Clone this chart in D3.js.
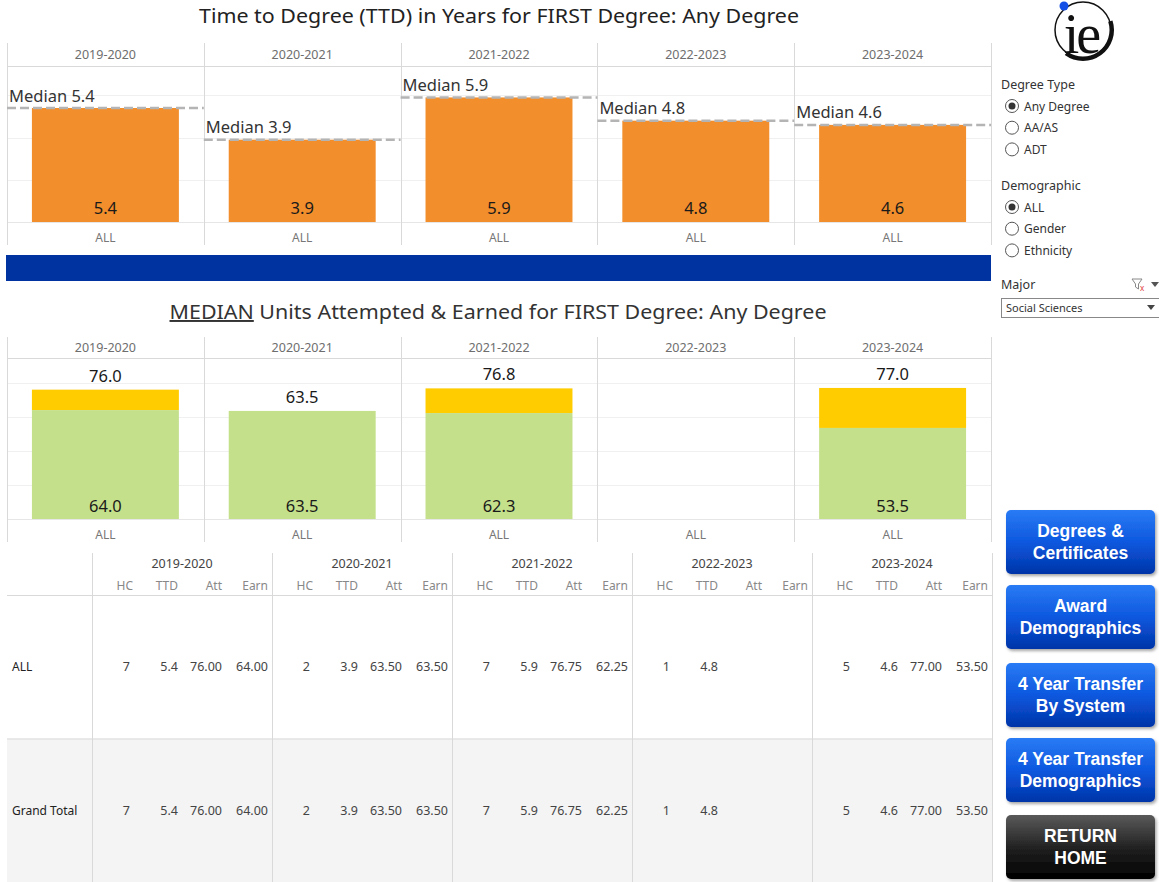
<!DOCTYPE html>
<html>
<head>
<meta charset="utf-8">
<script src="https://cdn.jsdelivr.net/npm/d3@7"></script>
<style>
  html, body { margin: 0; padding: 0; background: #fff; }
  svg { display: block; font-family: "Noto Sans", "Open Sans", sans-serif; }
</style>
</head>
<body>
<svg id="chart" width="1159" height="882"></svg>
<script>
// ---------------- DATA ----------------
const years = ["2019-2020", "2020-2021", "2021-2022", "2022-2023", "2023-2024"];
const demographicRows = ["ALL"];
const ttdValues = [5.4, 3.9, 5.9, 4.8, 4.6];
const ttdMedians = [5.4, 3.9, 5.9, 4.8, 4.6];
const unitsAttempted = [76.0, 63.5, 76.75, null, 77.0];
const unitsEarned = [64.0, 63.5, 62.25, null, 53.5];
const headcount = [7, 2, 7, 1, 5];
const ttdTicks = [0, 2, 4, 6];
const unitTicks = [0, 20, 40, 60, 80];
const tableRows = ["ALL", "Grand Total"];
const tableColumns = ["HC", "TTD", "Att", "Earn"];
const degreeTypeOptions = ["Any Degree", "AA/AS", "ADT"];
const demographicOptions = ["ALL", "Gender", "Ethnicity"];
const majorSelected = "Social Sciences";
const navButtons = [
  ["Degrees &", "Certificates"],
  ["Award", "Demographics"],
  ["4 Year Transfer", "By System"],
  ["4 Year Transfer", "Demographics"],
  ["RETURN", "HOME"]
];

// ---------------- SETUP ----------------
const svg = d3.select("#chart");
const fmt1 = d3.format(".1f");
const fmt2 = d3.format(".2f");

const defs = svg.append("defs");
const gBlue = defs.append("linearGradient").attr("id", "gradBlue").attr("x1", 0).attr("y1", 0).attr("x2", 0).attr("y2", 1);
gBlue.append("stop").attr("offset", "0%").attr("stop-color", "#2a7bf5");
gBlue.append("stop").attr("offset", "50%").attr("stop-color", "#0d58df");
gBlue.append("stop").attr("offset", "100%").attr("stop-color", "#0134a8");
const gBlack = defs.append("linearGradient").attr("id", "gradBlack").attr("x1", 0).attr("y1", 0).attr("x2", 0).attr("y2", 1);
gBlack.append("stop").attr("offset", "0%").attr("stop-color", "#5a5a5a");
gBlack.append("stop").attr("offset", "55%").attr("stop-color", "#1e1e1e");
gBlack.append("stop").attr("offset", "100%").attr("stop-color", "#000");
const flt = defs.append("filter").attr("id", "shadow").attr("x", "-10%").attr("y", "-10%").attr("width", "130%").attr("height", "140%");
flt.append("feDropShadow").attr("dx", 1.5).attr("dy", 2).attr("stdDeviation", 1.5).attr("flood-color", "#000").attr("flood-opacity", 0.35);

const xPanel = d3.scaleBand().domain(years).range([7, 991]).paddingInner(0).paddingOuter(0);
const xInner = d3.scaleBand().domain(demographicRows).range([0, xPanel.bandwidth()]).paddingInner(0.145).paddingOuter(0.145);

const gridColor = "#f0f0f0";
const lineColor = "#d9d9d9";

function panelFrame(g, top, headerBottom, baseY, bottom, yScale, ticks) {
  years.forEach(yr => {
    const x0 = xPanel(yr);
    g.selectAll(null).data(ticks).enter().append("line")
      .attr("x1", x0).attr("x2", x0 + xPanel.bandwidth())
      .attr("y1", d => Math.round(yScale(d)) + 0.5).attr("y2", d => Math.round(yScale(d)) + 0.5)
      .attr("stroke", d => d === 0 ? "#e6e6e6" : gridColor).attr("stroke-width", 1);
  });
  g.append("line").attr("x1", 7).attr("x2", 991).attr("y1", headerBottom + 0.5).attr("y2", headerBottom + 0.5)
    .attr("stroke", lineColor);
  const edges = years.map(y => xPanel(y)).concat([xPanel.range()[1]]);
  g.selectAll(null).data(edges).enter().append("line")
    .attr("x1", d => Math.round(d) + 0.5).attr("x2", d => Math.round(d) + 0.5)
    .attr("y1", top).attr("y2", bottom).attr("stroke", lineColor);
  g.selectAll(null).data(years).enter().append("text")
    .attr("x", d => xPanel(d) + xPanel.bandwidth() / 2)
    .attr("y", (top + headerBottom) / 2 + 4.5)
    .attr("text-anchor", "middle").attr("font-size", 12.5).attr("fill", "#6e6e6e").text(d => d);
  years.forEach(yr => {
    g.selectAll(null).data(demographicRows).enter().append("text")
      .attr("x", d => xPanel(yr) + xInner(d) + xInner.bandwidth() / 2)
      .attr("y", baseY + 19.5)
      .attr("text-anchor", "middle").attr("font-size", 12).attr("fill", "#777").text(d => d);
  });
}

// ---------------- TITLE 1 ----------------
svg.append("text").attr("x", 499).attr("y", 23).attr("text-anchor", "middle")
  .attr("font-size", 19.5).attr("fill", "#222")
  .attr("textLength", 600).attr("lengthAdjust", "spacingAndGlyphs")
  .text("Time to Degree (TTD) in Years for FIRST Degree: Any Degree");

// ---------------- CHART 1 : TTD ----------------
const y1 = d3.scaleLinear().domain([0, 7.39]).range([222, 66]);
const c1 = svg.append("g");
panelFrame(c1, 43, 66, 222, 245, y1, ttdTicks);

const ttdData = years.map((yr, i) => ({ yr, v: ttdValues[i], m: ttdMedians[i], cat: demographicRows[0] }));
c1.selectAll("rect.bar").data(ttdData).enter().append("rect")
  .attr("x", d => xPanel(d.yr) + xInner(d.cat))
  .attr("width", xInner.bandwidth())
  .attr("y", d => y1(d.v)).attr("height", d => y1(0) - y1(d.v))
  .attr("fill", "#f28e2b");
c1.selectAll("line.med").data(ttdData).enter().append("line")
  .attr("x1", d => xPanel(d.yr)).attr("x2", d => xPanel(d.yr) + xPanel.bandwidth())
  .attr("y1", d => y1(d.m)).attr("y2", d => y1(d.m))
  .attr("stroke", "#b4b4b4").attr("stroke-width", 2.5).attr("stroke-dasharray", "9,4");
c1.selectAll("text.med").data(ttdData).enter().append("text")
  .attr("x", d => xPanel(d.yr) + 2).attr("y", d => y1(d.m) - 6.5)
  .attr("font-size", 16.5).attr("fill", "#333").text(d => "Median " + fmt1(d.m));
c1.selectAll("text.val").data(ttdData).enter().append("text")
  .attr("x", d => xPanel(d.yr) + xInner(d.cat) + xInner.bandwidth() / 2).attr("y", y1(0) - 8)
  .attr("text-anchor", "middle").attr("font-size", 16.5).attr("fill", "#1a1a1a").text(d => fmt1(d.v));

// ---------------- BLUE DIVIDER ----------------
svg.append("rect").attr("x", 6).attr("y", 255).attr("width", 985).attr("height", 26).attr("fill", "#0033a0");

// ---------------- TITLE 2 ----------------
const t2 = svg.append("text").attr("x", 498).attr("y", 319).attr("text-anchor", "middle")
  .attr("font-size", 19.5).attr("fill", "#333")
  .attr("textLength", 657).attr("lengthAdjust", "spacingAndGlyphs");
t2.append("tspan").attr("text-decoration", "underline").text("MEDIAN");
t2.append("tspan").text(" Units Attempted & Earned for FIRST Degree: Any Degree");

// ---------------- CHART 2 : UNITS ----------------
const y2 = d3.scaleLinear().domain([0, 94.6]).range([519, 358]);
const c2 = svg.append("g");
panelFrame(c2, 337, 358, 519, 542, y2, unitTicks);

const unitData = years.map((yr, i) => ({ yr, att: unitsAttempted[i], earn: unitsEarned[i], cat: demographicRows[0] }))
  .filter(d => d.att != null);
const bx = d => xPanel(d.yr) + xInner(d.cat);
c2.selectAll("rect.att").data(unitData).enter().append("rect")
  .attr("x", bx).attr("width", xInner.bandwidth())
  .attr("y", d => y2(d.att)).attr("height", d => y2(d.earn) - y2(d.att))
  .attr("fill", "#ffcc00");
c2.selectAll("rect.earn").data(unitData).enter().append("rect")
  .attr("x", bx).attr("width", xInner.bandwidth())
  .attr("y", d => y2(d.earn)).attr("height", d => y2(0) - y2(d.earn))
  .attr("fill", "#c5e08b");
c2.selectAll("text.att").data(unitData).enter().append("text")
  .attr("x", d => bx(d) + xInner.bandwidth() / 2).attr("y", d => y2(d.att) - 8)
  .attr("text-anchor", "middle").attr("font-size", 16.5).attr("fill", "#1a1a1a").text(d => fmt1(d.att));
c2.selectAll("text.earn").data(unitData).enter().append("text")
  .attr("x", d => bx(d) + xInner.bandwidth() / 2).attr("y", y2(0) - 7)
  .attr("text-anchor", "middle").attr("font-size", 16.5).attr("fill", "#1a1a1a").text(d => fmt1(d.earn));

// ---------------- TABLE ----------------
const tbl = svg.append("g");
const groupX = d3.scaleBand().domain(years).range([92, 992]);
const colRight = d3.scaleOrdinal().domain(tableColumns).range([41, 86, 130, 176]);
const rowY = d3.scaleBand().domain(tableRows).range([595, 882]);

tbl.append("rect").attr("x", 7).attr("y", rowY("Grand Total")).attr("width", 985)
  .attr("height", rowY.bandwidth()).attr("fill", "#f4f4f4");
tbl.append("line").attr("x1", 7).attr("x2", 992).attr("y1", 595.5).attr("y2", 595.5).attr("stroke", lineColor);
tbl.append("line").attr("x1", 7).attr("x2", 992).attr("y1", rowY("Grand Total") + 0.5).attr("y2", rowY("Grand Total") + 0.5).attr("stroke", lineColor);
const vEdges = [92].concat(years.map(y => groupX(y) + groupX.bandwidth()));
tbl.selectAll(null).data(vEdges).enter().append("line")
  .attr("x1", d => d + 0.5).attr("x2", d => d + 0.5).attr("y1", 553).attr("y2", 882)
  .attr("stroke", lineColor);
tbl.selectAll(null).data(years).enter().append("text")
  .attr("x", d => groupX(d) + groupX.bandwidth() / 2).attr("y", 568)
  .attr("text-anchor", "middle").attr("font-size", 12.5).attr("fill", "#444").text(d => d);
years.forEach(yr => {
  tbl.selectAll(null).data(tableColumns).enter().append("text")
    .attr("x", c => groupX(yr) + colRight(c)).attr("y", 590)
    .attr("text-anchor", "end").attr("font-size", 12).attr("fill", "#888").text(c => c);
});
tbl.selectAll(null).data(tableRows).enter().append("text")
  .attr("x", 12).attr("y", r => rowY(r) + rowY.bandwidth() / 2 + 4.5)
  .attr("font-size", 12).attr("fill", "#222").text(r => r);
tableRows.forEach(r => {
  years.forEach((yr, i) => {
    const vals = {
      HC: String(headcount[i]),
      TTD: fmt1(ttdValues[i]),
      Att: unitsAttempted[i] == null ? "" : fmt2(unitsAttempted[i]),
      Earn: unitsEarned[i] == null ? "" : fmt2(unitsEarned[i])
    };
    tbl.selectAll(null).data(tableColumns).enter().append("text")
      .attr("x", c => groupX(yr) + colRight(c) - (c === "HC" ? 3 : 0))
      .attr("y", rowY(r) + rowY.bandwidth() / 2 + 4.5)
      .attr("text-anchor", "end").attr("font-size", 12.5).attr("fill", "#444").text(c => vals[c]);
  });
});

// ---------------- SIDEBAR ----------------
const side = svg.append("g");
const logo = side.append("g");
logo.append("circle").attr("cx", 1083).attr("cy", 30).attr("r", 28).attr("fill", "none").attr("stroke", "#111").attr("stroke-width", 1.5);
logo.append("path").attr("d", d3.arc()({ innerRadius: 26.5, outerRadius: 31, startAngle: Math.PI * 0.4, endAngle: Math.PI * 1.2 }))
  .attr("transform", "translate(1083,30)").attr("fill", "#111");
logo.append("text").attr("x", 1081).attr("y", 53).attr("text-anchor", "middle")
  .attr("font-family", "'Liberation Serif', 'DejaVu Serif', serif").attr("font-size", 56).attr("fill", "#111")
  .attr("letter-spacing", -3).text("ie");
logo.append("circle").attr("cx", 1064).attr("cy", 6).attr("r", 4.5).attr("fill", "#1450e6");

function radioGroup(title, opts, y0, selected) {
  side.append("text").attr("x", 1001).attr("y", y0).attr("font-size", 12.5).attr("fill", "#333").text(title);
  const g = side.selectAll(null).data(opts).enter().append("g")
    .attr("transform", (d, i) => `translate(0,${y0 + 17 + i * 21.7})`);
  g.append("circle").attr("cx", 1012).attr("cy", 0).attr("r", 6.5).attr("fill", "#fff").attr("stroke", "#555").attr("stroke-width", 1);
  g.filter(d => d === selected).append("circle").attr("cx", 1012).attr("cy", 0).attr("r", 3.5).attr("fill", "#333");
  g.append("text").attr("x", 1024).attr("y", 4.5).attr("font-size", 12).attr("fill", "#333").text(d => d);
}
radioGroup("Degree Type", degreeTypeOptions, 89, "Any Degree");
radioGroup("Demographic", demographicOptions, 190, "ALL");

side.append("text").attr("x", 1001).attr("y", 289).attr("font-size", 12.5).attr("fill", "#333").text("Major");
side.append("path").attr("d", "M1132,279 L1142,279 L1138.5,284 L1138.5,289 L1135.5,287 L1135.5,284 Z")
  .attr("fill", "none").attr("stroke", "#888").attr("stroke-width", 1);
side.append("text").attr("x", 1140).attr("y", 291).attr("font-size", 8).attr("fill", "#e23b3b").text("x");
side.append("path").attr("d", "M1151,282 L1159,282 L1155,287 Z").attr("fill", "#555");
side.append("rect").attr("x", 1001.5).attr("y", 298.5).attr("width", 160).attr("height", 19).attr("fill", "#fff").attr("stroke", "#888");
side.append("text").attr("x", 1006).attr("y", 312).attr("font-size", 11).attr("fill", "#333").text(majorSelected);
side.append("path").attr("d", "M1147,305 L1155,305 L1151,310 Z").attr("fill", "#444");

const btnTops = [510, 585, 663, 738, 815];
const btns = side.selectAll("g.btn").data(navButtons).enter().append("g")
  .attr("transform", (d, i) => `translate(1006,${btnTops[i]})`);
btns.append("rect").attr("width", 149).attr("height", 64).attr("rx", 5)
  .attr("fill", (d, i) => i === navButtons.length - 1 ? "url(#gradBlack)" : "url(#gradBlue)")
  .attr("filter", "url(#shadow)");
btns.append("text").attr("x", 74.5).attr("y", 27).attr("text-anchor", "middle")
  .attr("font-family", "'Liberation Sans', Arial, sans-serif").attr("font-weight", "bold").attr("font-size", 17.5)
  .attr("fill", "#fff").text(d => d[0]);
btns.append("text").attr("x", 74.5).attr("y", 49).attr("text-anchor", "middle")
  .attr("font-family", "'Liberation Sans', Arial, sans-serif").attr("font-weight", "bold").attr("font-size", 17.5)
  .attr("fill", "#fff").text(d => d[1]);
</script>
</body>
</html>
